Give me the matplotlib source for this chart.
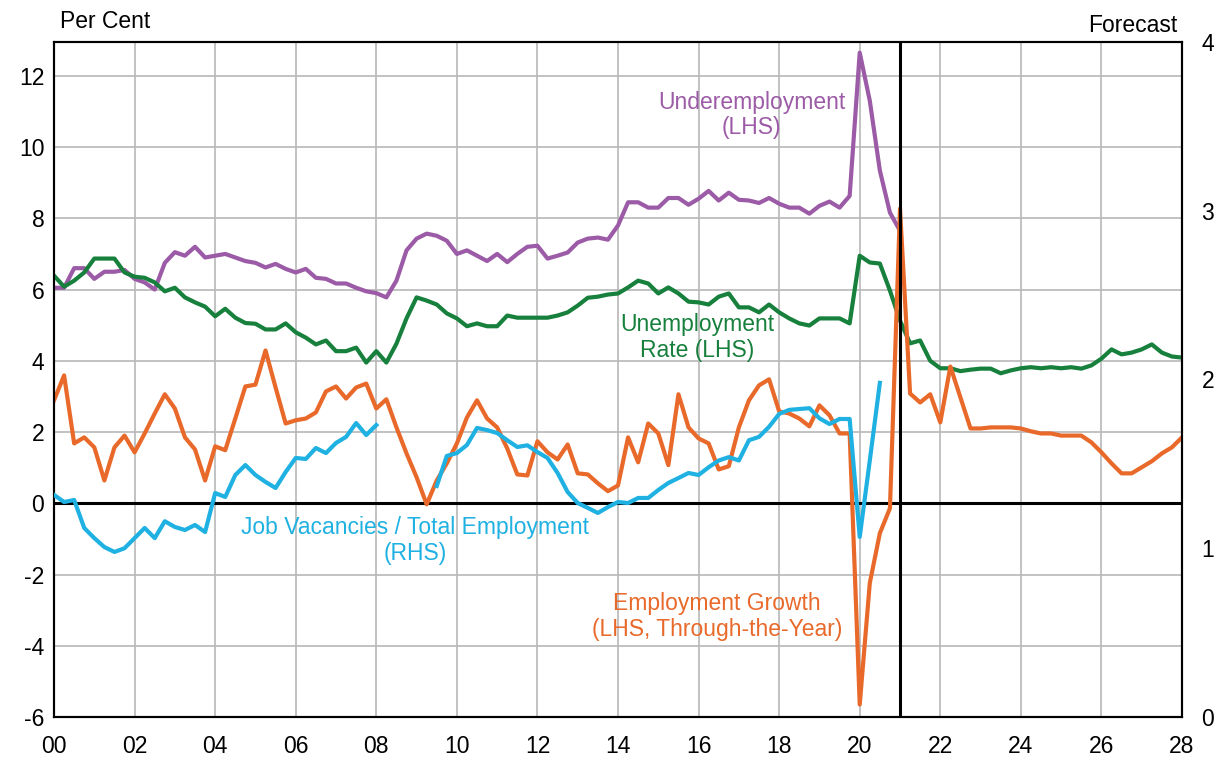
import numpy as np
import matplotlib
matplotlib.use("Agg")
import matplotlib.pyplot as plt

plt.rcParams['font.family'] = ['Liberation Sans', 'DejaVu Sans']
plt.rcParams['axes.unicode_minus'] = False

# quarterly data
underemployment = [6.05, 6.05, 6.6, 6.6, 6.3, 6.5, 6.5, 6.55, 6.3, 6.2, 6.0, 6.75,
                   7.05, 6.95, 7.2, 6.9, 6.95, 7.0, 6.9, 6.8, 6.75, 6.62, 6.72, 6.58,
                   6.48, 6.58, 6.33, 6.3, 6.17, 6.17, 6.05, 5.95, 5.9, 5.78, 6.25, 7.1,
                   7.43, 7.57, 7.51, 7.37, 7.0, 7.1, 6.95, 6.8, 7.0, 6.77, 7.0, 7.2,
                   7.23, 6.87, 6.95, 7.04, 7.32, 7.43, 7.46, 7.4, 7.8, 8.45, 8.45, 8.3,
                   8.3, 8.57, 8.57, 8.38, 8.55, 8.77, 8.5, 8.72, 8.52, 8.5, 8.43, 8.57,
                   8.41, 8.3, 8.3, 8.13, 8.35, 8.47, 8.3, 8.63, 12.65, 11.3, 9.34, 8.16,
                   7.65]

unemployment = [6.39, 6.08, 6.25, 6.48, 6.87, 6.87, 6.87, 6.48, 6.36, 6.33, 6.2, 5.95,
                6.05, 5.78, 5.64, 5.52, 5.25, 5.46, 5.21, 5.06, 5.04, 4.88, 4.88, 5.05,
                4.8, 4.65, 4.46, 4.57, 4.27, 4.27, 4.37, 3.95, 4.27, 3.95, 4.48, 5.19,
                5.78, 5.69, 5.58, 5.33, 5.19, 4.97, 5.05, 4.97, 4.97, 5.27, 5.21, 5.21,
                5.21, 5.21, 5.27, 5.36, 5.55, 5.77, 5.8, 5.86, 5.89, 6.06, 6.25, 6.17,
                5.89, 6.06, 5.89, 5.66, 5.64, 5.58, 5.8, 5.89, 5.5, 5.5, 5.36, 5.58,
                5.36, 5.19, 5.05, 4.99, 5.19, 5.19, 5.19, 5.05, 6.95, 6.76, 6.73, 5.97,
                5.13, 4.49, 4.57, 4.0, 3.79, 3.79, 3.71, 3.75, 3.78, 3.78, 3.65, 3.73,
                3.79, 3.82, 3.79, 3.82, 3.79, 3.82, 3.78, 3.87, 4.06, 4.32, 4.18, 4.23,
                4.32, 4.46, 4.23, 4.12, 4.09]

emp_growth = [2.89, 3.59, 1.68, 1.85, 1.57, 0.64, 1.57, 1.9, 1.43, 1.96, 2.52, 3.06,
              2.66, 1.85, 1.51, 0.64, 1.6, 1.49, 2.38, 3.28, 3.33, 4.29, 3.25, 2.24,
              2.33, 2.38, 2.55, 3.14, 3.28, 2.94, 3.25, 3.36, 2.66, 2.92, 2.13, 1.4,
              0.73, -0.03, 0.64, 1.12, 1.68, 2.41, 2.89, 2.38, 2.13, 1.54, 0.81, 0.78,
              1.74, 1.43, 1.23, 1.65, 0.84, 0.81, 0.56, 0.34, 0.5, 1.85, 1.15, 2.24,
              1.96, 1.07, 3.06, 2.13, 1.82, 1.68, 0.95, 1.04, 2.13, 2.89, 3.31, 3.48,
              2.58, 2.52, 2.38, 2.16, 2.75, 2.47, 1.96, 1.96, -5.65, -2.24, -0.84, -0.14,
              8.27, 3.08, 2.83, 3.06, 2.27, 3.84, 2.97, 2.1, 2.1, 2.13, 2.13, 2.13,
              2.1, 2.02, 1.96, 1.96, 1.9, 1.9, 1.9, 1.71, 1.43, 1.12, 0.84, 0.84,
              1.01, 1.18, 1.4, 1.57, 1.85]

# RHS, gap in 2008-09
vacancies = [1.316, 1.274, 1.286, 1.12, 1.06, 1.007, 0.978, 1.0, 1.06, 1.12, 1.06, 1.16,
             1.126, 1.108, 1.138, 1.096, 1.327, 1.304, 1.434, 1.493, 1.434, 1.393, 1.357, 1.452,
             1.535, 1.529, 1.594, 1.564, 1.624, 1.66, 1.742, 1.671, 1.73,
             np.nan, np.nan, np.nan, np.nan, np.nan,
             1.369, 1.547,
             1.564, 1.612, 1.713, 1.7, 1.683, 1.64, 1.6, 1.61, 1.57, 1.535, 1.446, 1.333,
             1.268, 1.239, 1.209, 1.244, 1.274, 1.268, 1.298, 1.298, 1.345, 1.387, 1.416, 1.446,
             1.434, 1.48, 1.52, 1.54, 1.52, 1.64, 1.66, 1.72, 1.796, 1.82, 1.825, 1.83,
             1.77, 1.736, 1.766, 1.766, 1.067, 1.52, 1.98]

forecast_start = 2021.0
start = 2000.0
x_ticks = np.arange(2000, 2029, 2)
x_labels = ['%02d' % (t % 100) for t in x_ticks]

def quarters(vals):
    return start + 0.25 * np.arange(len(vals))

purple = '#9c5ba6'
green = '#17803d'
orange = '#e8692a'
blue = '#1fb1e2'
fs = 16.5

fig = plt.figure(figsize=(12.25, 7.58), dpi=100)
ax = fig.add_axes([0.0441, 0.0541, 0.9208, 0.8905])
ax2 = ax.twinx()

ax.set_xlim(2000, 2028)
ax.set_ylim(-6, 12.95)
ax2.set_ylim(0, 4)

ax.set_xticks(x_ticks)
ax.set_xticklabels(x_labels)
ax.set_yticks(np.arange(-6, 13, 2))
ax2.set_yticks([0, 1, 2, 3, 4])
ax.grid(True, color='#b8b8b8', lw=1.2)
ax.set_axisbelow(True)
ax.tick_params(axis='both', length=0, labelsize=fs)
ax.tick_params(axis='x', pad=13)
ax.tick_params(axis='y', pad=7)
ax2.tick_params(axis='y', length=0, labelsize=fs, pad=14)
for a in (ax, ax2):
    for s in a.spines.values():
        s.set_linewidth(1.5)
        s.set_color('black')

ax.axhline(0, color='black', lw=2.2, zorder=2)

ax.plot(quarters(underemployment), underemployment, color=purple, lw=3, zorder=3)
ax.plot(quarters(unemployment), unemployment, color=green, lw=3, zorder=3)
ax.plot(quarters(emp_growth), emp_growth, color=orange, lw=3, zorder=4)
ax2.plot(quarters(vacancies), vacancies, color=blue, lw=3, zorder=3)
ax.axvline(forecast_start, color='black', lw=2.2, zorder=5)

ax.text(2017.32, 10.9, 'Underemployment\n(LHS)', color=purple, fontsize=fs,
        ha='center', va='center', linespacing=1.15)
ax.text(2015.96, 4.65, 'Unemployment\nRate (LHS)', color=green, fontsize=fs,
        ha='center', va='center', linespacing=1.15)
ax.text(2008.96, -1.04, 'Job Vacancies / Total Employment\n(RHS)', color=blue,
        fontsize=fs, ha='center', va='center', linespacing=1.15)
ax.text(2016.45, -3.17, 'Employment Growth\n(LHS, Through-the-Year)', color=orange,
        fontsize=fs, ha='center', va='center', linespacing=1.15)

fig.text(60 / 1225, 1 - 22 / 758, 'Per Cent', fontsize=fs, ha='left', va='center')
fig.text(1177 / 1225, 1 - 25 / 758, 'Forecast', fontsize=fs, ha='right', va='center')

fig.savefig('out.png', dpi=100)
